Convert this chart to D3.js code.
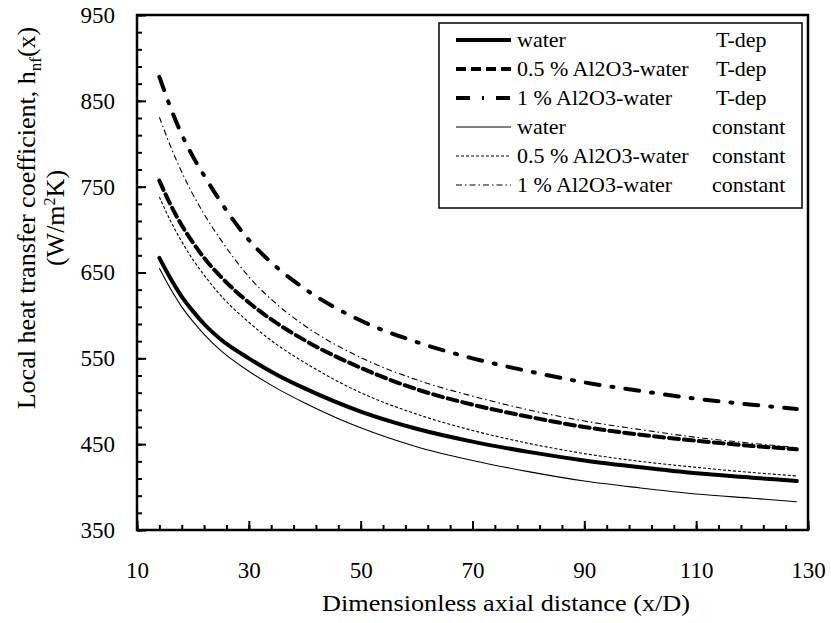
<!DOCTYPE html>
<html>
<head>
<meta charset="utf-8">
<script src="https://cdn.jsdelivr.net/npm/d3@7/dist/d3.min.js"></script>
<style>
  body { margin: 0; background: #fff; }
  text { font-family: "Liberation Serif", "Times New Roman", serif; fill: #000; }
</style>
</head>
<body>
<svg class="chart-hnf" width="831" height="623"></svg>
<script>
//------------------------------------------------------------
//---------------------------dados-----------
var xPos = [14, 16, 18, 20, 22, 25, 30, 35, 40, 50, 60, 70, 80, 90, 100, 110, 120, 128];

var waterTdep    = [667, 643, 622, 605, 590, 572, 550, 531, 515, 488, 468, 453, 441, 431, 423, 416, 411, 407];
var halfTdep     = [757, 729, 705, 685, 667, 645, 615, 591, 571, 539, 514, 496, 482, 470, 461, 454, 448, 444];
var oneTdep      = [878, 842, 811, 785, 763, 732, 688, 656, 631, 594, 569, 550, 535, 522, 512, 503, 496, 491];
var waterConst   = [655, 631, 610, 593, 578, 559, 535, 515, 498, 469, 447, 431, 418, 407, 399, 392, 387, 383];
var halfConst    = [738, 710, 686, 665, 647, 623, 592, 566, 545, 510, 485, 466, 451, 439, 430, 423, 417, 413];
var oneConst     = [831, 797, 767, 741, 718, 688, 645, 613, 588, 551, 525, 506, 490, 477, 467, 458, 451, 446];

var seriesNames  = ["water", "0.5 % Al2O3-water", "1 % Al2O3-water", "water", "0.5 % Al2O3-water", "1 % Al2O3-water"];
var seriesProps  = ["T-dep", "T-dep", "T-dep", "constant", "constant", "constant"];

var xTicks = [10, 30, 50, 70, 90, 110, 130];
var yTicks = [350, 450, 550, 650, 750, 850, 950];

//estilos de cada curva (mesma ordem das series)
var estilos = [
  { w: 4,   dash: null },
  { w: 4,   dash: "10,5" },
  { w: 4,   dash: "14,12,2,12" },
  { w: 1.1, dash: null },
  { w: 1.1, dash: "3,2" },
  { w: 1.1, dash: "6,3,1.5,3" }
];

var dataset = [waterTdep, halfTdep, oneTdep, waterConst, halfConst, oneConst].map(function(vals, i) {
  return {
    nome: seriesNames[i],
    prop: seriesProps[i],
    estilo: estilos[i],
    pontos: vals.map(function(v, j) { return { x: xPos[j], y: v }; })
  };
});

//------------------------------------------------------------
//escalas
var svg = d3.select(".chart-hnf");
var pEsq = 137, pDir = 808, pTopo = 15, pBase = 530;

var xScale = d3.scaleLinear().domain([10, 130]).range([pEsq, pDir]);
var yScale = d3.scaleLinear().domain([350, 950]).range([pBase, pTopo]);

desenhaEixos();
desenhaCurvas();
desenhaLegenda();
desenhaTitulos();

//------------------------------------------------------------
//eixos - ticks para dentro, menores a cada 4 (x) e 20 (y)
function desenhaEixos() {
  var minorX = d3.range(10, 130.1, 4);
  var minorY = d3.range(350, 950.1, 20);

  svg.append("g")
    .attr("transform", "translate(0," + pBase + ")")
    .call(d3.axisBottom(xScale).tickValues(minorX).tickSize(-5).tickFormat(""))
    .call(function(g) { g.select(".domain").remove(); });

  svg.append("g")
    .attr("transform", "translate(0," + pBase + ")")
    .call(d3.axisBottom(xScale).tickValues(xTicks).tickSize(-9).tickPadding(32))
    .call(function(g) { g.select(".domain").remove(); })
    .selectAll("text")
    .attr("font-size", "23px")
    .attr("font-family", "Liberation Serif");

  svg.append("g")
    .attr("transform", "translate(" + pEsq + ",0)")
    .call(d3.axisLeft(yScale).tickValues(minorY).tickSize(-5).tickFormat(""))
    .call(function(g) { g.select(".domain").remove(); });

  svg.append("g")
    .attr("transform", "translate(" + pEsq + ",0)")
    .call(d3.axisLeft(yScale).tickValues(yTicks).tickSize(-9).tickPadding(22))
    .call(function(g) { g.select(".domain").remove(); })
    .selectAll("text")
    .attr("font-size", "23px")
    .attr("font-family", "Liberation Serif");

  svg.selectAll(".tick line").attr("stroke", "#000").attr("stroke-width", 2);

  //moldura
  svg.append("rect")
    .attr("x", pEsq)
    .attr("y", pTopo)
    .attr("width", pDir - pEsq)
    .attr("height", pBase - pTopo)
    .attr("fill", "none")
    .attr("stroke", "#000")
    .attr("stroke-width", 2.5);
}

//curvas
function desenhaCurvas() {
  var linha = d3.line()
    .x(function(d) { return xScale(d.x); })
    .y(function(d) { return yScale(d.y); })
    .curve(d3.curveMonotoneX);

  svg.append("g").selectAll("path")
    .data(dataset)
    .enter()
    .append("path")
    .attr("d", function(d) { return linha(d.pontos); })
    .attr("fill", "none")
    .attr("stroke", "#000")
    .attr("stroke-width", function(d) { return d.estilo.w; })
    .attr("stroke-dasharray", function(d) { return d.estilo.dash; })
    .attr("stroke-linecap", function(d) { return d.estilo.w > 2 ? "round" : "butt"; });
}

//legenda
function desenhaLegenda() {
  var lx = 439, ly = 23, lw = 363, lh = 185, passo = 29;

  var leg = svg.append("g");
  leg.append("rect")
    .attr("x", lx).attr("y", ly)
    .attr("width", lw).attr("height", lh)
    .attr("fill", "#fff")
    .attr("stroke", "#000")
    .attr("stroke-width", 1.5);

  var itens = leg.selectAll(".item")
    .data(dataset)
    .enter()
    .append("g")
    .attr("class", "item")
    .attr("transform", function(d, i) { return "translate(0," + (ly + 17 + i * passo) + ")"; });

  itens.append("line")
    .attr("x1", 456).attr("x2", 511)
    .attr("y1", 0).attr("y2", 0)
    .attr("stroke", "#000")
    .attr("stroke-width", function(d) { return d.estilo.w; })
    .attr("stroke-dasharray", function(d) { return d.estilo.dash; });

  itens.append("text")
    .attr("x", 517)
    .attr("y", 7)
    .attr("font-size", "22px")
    .text(function(d) { return d.nome; });

  itens.append("text")
    .attr("x", function(d) { return d.prop == "T-dep" ? 716 : 712; })
    .attr("y", 7)
    .attr("font-size", "22px")
    .text(function(d) { return d.prop; });
}

//titulos dos eixos
function desenhaTitulos() {
  svg.append("text")
    .attr("x", 506)
    .attr("y", 611)
    .attr("text-anchor", "middle")
    .attr("font-size", "24px")
    .attr("textLength", 368)
    .attr("lengthAdjust", "spacingAndGlyphs")
    .text("Dimensionless axial distance (x/D)");

  var ty = svg.append("text")
    .attr("transform", "translate(35,218) rotate(-90)")
    .attr("text-anchor", "middle")
    .attr("font-size", "26px");
  ty.append("tspan").text("Local heat transfer coefficient, h");
  ty.append("tspan").attr("font-size", "17px").attr("dy", 6).text("nf");
  ty.append("tspan").attr("dy", -6).text("(x)");

  var ty2 = svg.append("text")
    .attr("transform", "translate(64,218) rotate(-90)")
    .attr("text-anchor", "middle")
    .attr("font-size", "26px");
  ty2.append("tspan").text("(W/m");
  ty2.append("tspan").attr("font-size", "16px").attr("dy", -9).text("2");
  ty2.append("tspan").attr("dy", 9).text("K)");
}
</script>
</body>
</html>
